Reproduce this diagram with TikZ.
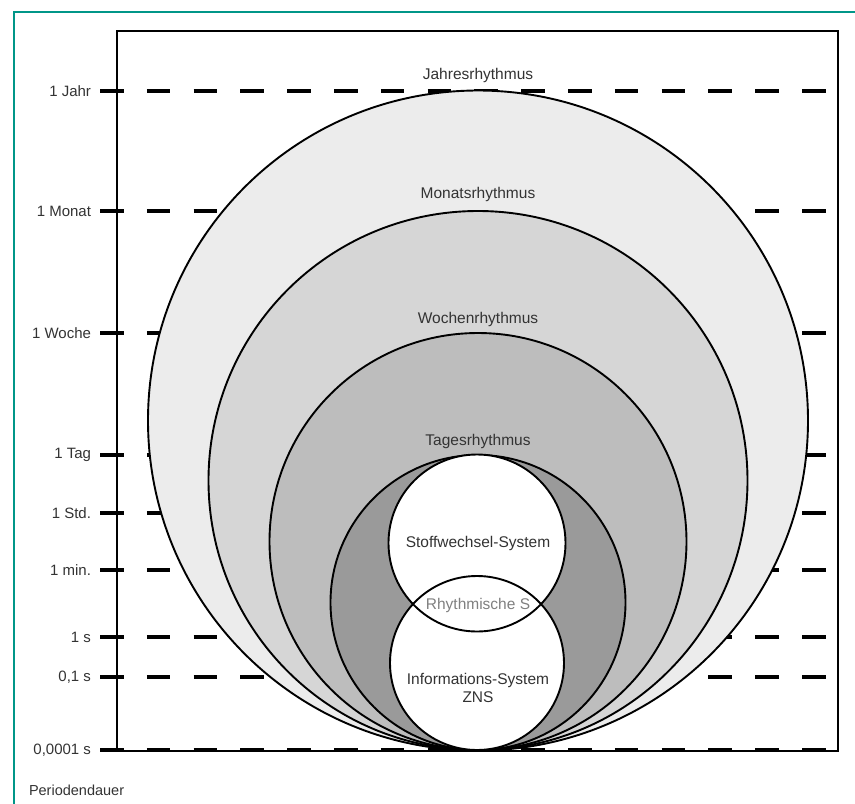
\documentclass[tikz,border=0pt]{standalone}
\usepackage{fontspec}
\setmainfont{Liberation Sans}
\begin{document}
\begin{tikzpicture}[x=1pt,y=-1pt,
  every node/.style={inner sep=0pt,outer sep=0pt},
  axlabel/.style={anchor=east,text=black!80,font=\fontsize{15}{17}\selectfont},
  circlabel/.style={text=black!80,font=\fontsize{15.5}{18}\selectfont,align=center},
  level/.style={line width=4pt,dash pattern=on 23.5pt off 23.3pt},
  ring/.style={draw=black,line width=1.9pt},
  frameline/.style={draw=black,line width=2pt}]
\useasboundingbox (0,0) rectangle (855,804);
\fill[white] (0,0) rectangle (855,804);
% teal frame
\draw[color={rgb,255:red,0;green,150;blue,136},line width=2pt] (14,804) -- (14,12) -- (855,12);
% axis box
\coordinate (bl) at (117,751);
\coordinate (tr) at (838,31);
\draw[frameline] (bl) rectangle (tr);
% levels
\foreach \name/\lab/\yy in {jahr/1 Jahr/91, monat/1 Monat/211, woche/1 Woche/333, tag/1 Tag/455, std/1 Std./513, min/1 min./570, s/1 s/637, zs/{0,1 s}/677, ms/{0,0001 s}/750}{
  \coordinate (\name L) at (100,\yy);
  \coordinate (\name R) at (826,\yy);
  \draw[level] (\name L) -- (\name R);
  \node[axlabel] (\name lab) at (91,\yy) {\lab};
}
% nested circles
\fill[fill={rgb,255:red,236;green,236;blue,236}] (478,420.5) circle (330);
\draw[ring] (478,420.5) circle (330);
\fill[fill={rgb,255:red,214;green,214;blue,214}] (478,480.5) circle (269.5);
\draw[ring] (478,480.5) circle (269.5);
\fill[fill={rgb,255:red,189;green,189;blue,189}] (478,541.5) circle (208.5);
\draw[ring] (478,541.5) circle (208.5);
\fill[fill={rgb,255:red,154;green,154;blue,154}] (478,602.5) circle (147.5);
\draw[ring] (478,602.5) circle (147.5);
% Stoffwechsel and Informations circles
\fill[white] (477,543) circle (88.5);
\fill[white] (477,663) circle (87);
\draw[ring] (477,543) circle (88.5);
\draw[ring] (477,663) circle (87);
% labels
\node[circlabel] (jl) at (478,75) {Jahresrhythmus};
\node[circlabel] (ml) at (478,194) {Monatsrhythmus};
\node[circlabel] (wl) at (478,319) {Wochenrhythmus};
\node[circlabel] (tl) at (478,441) {Tagesrhythmus};
\node[circlabel] (sl) at (478,543) {Stoffwechsel-System};
\node[circlabel,text=black!50] (rl) at (478,605) {Rhythmische S};
\node[circlabel] (il) at (478,688) {Informations-System\\ZNS};
\node[anchor=west,text=black!80,font=\fontsize{14.5}{16}\selectfont] (pd) at (29,790) {Periodendauer};
\end{tikzpicture}
\end{document}
